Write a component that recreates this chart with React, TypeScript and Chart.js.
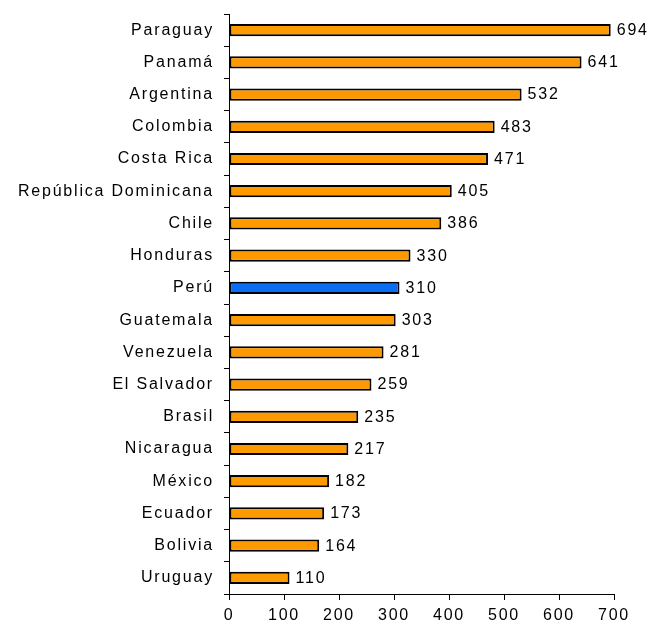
import React, { useEffect, useRef } from "react";
import { Chart, registerables } from "chart.js";

Chart.register(...registerables);

const categories = [
  "Paraguay",
  "Panamá",
  "Argentina",
  "Colombia",
  "Costa Rica",
  "República Dominicana",
  "Chile",
  "Honduras",
  "Perú",
  "Guatemala",
  "Venezuela",
  "El Salvador",
  "Brasil",
  "Nicaragua",
  "México",
  "Ecuador",
  "Bolivia",
  "Uruguay",
];
const values = [694, 641, 532, 483, 471, 405, 386, 330, 310, 303, 281, 259, 235, 217, 182, 173, 164, 110];
const highlighted = "Perú";
const xMin = 0;
const xMax = 700;
const xStep = 100;

const ORANGE = "#FF9900";
const BLUE = "#0A6EF5";
const FONT_FAMILY = "'Liberation Sans', Arial, sans-serif";
const FONT_SIZE = 16;
const LETTER_SPACING = "1.8px";

const spacingPlugin = {
  id: "letterSpacing",
  beforeUpdate(chart: any) {
    chart.ctx.letterSpacing = LETTER_SPACING;
  },
  beforeLayout(chart: any) {
    chart.ctx.letterSpacing = LETTER_SPACING;
  },
  beforeDraw(chart: any) {
    chart.ctx.letterSpacing = LETTER_SPACING;
  },
};

const valueLabelPlugin = {
  id: "valueLabels",
  afterDatasetsDraw(chart: any) {
    const ctx = chart.ctx;
    const meta = chart.getDatasetMeta(0);
    ctx.save();
    ctx.letterSpacing = LETTER_SPACING;
    ctx.font = `${FONT_SIZE}px ${FONT_FAMILY}`;
    ctx.fillStyle = "#000";
    ctx.textAlign = "left";
    ctx.textBaseline = "middle";
    meta.data.forEach((el: any, i: number) => {
      ctx.fillText(String(values[i]), el.x + 6, el.y + 0.5);
    });
    ctx.restore();
  },
};

export default function App() {
  const canvasRef = useRef<HTMLCanvasElement>(null);

  useEffect(() => {
    if (!canvasRef.current) return;
    const chart = new Chart(canvasRef.current, {
      type: "bar",
      data: {
        labels: categories,
        datasets: [
          {
            data: values,
            backgroundColor: categories.map((c) => (c === highlighted ? BLUE : ORANGE)),
            borderColor: "#000",
            borderWidth: 2,
            borderSkipped: false,
            barPercentage: 0.38,
            categoryPercentage: 1,
          },
        ],
      },
      options: {
        indexAxis: "y",
        responsive: false,
        animation: false,
        layout: { padding: { top: 14, right: 37, left: 0, bottom: 0 } },
        plugins: {
          legend: { display: false },
          tooltip: { enabled: false },
        },
        scales: {
          x: {
            type: "linear",
            min: xMin,
            max: xMax,
            ticks: {
              stepSize: xStep,
              color: "#000",
              font: { family: FONT_FAMILY, size: FONT_SIZE },
              padding: 6,
              maxRotation: 0,
            },
            grid: {
              display: true,
              drawOnChartArea: false,
              drawTicks: true,
              tickLength: 6,
              color: "#000",
            },
            border: { display: true, color: "#000", width: 1 },
            afterFit(scale: any) {
              scale.height = 27;
              scale.paddingLeft = 0;
            },
          },
          y: {
            type: "category",
            ticks: {
              color: "#000",
              font: { family: FONT_FAMILY, size: FONT_SIZE },
              padding: 10,
              autoSkip: false,
            },
            grid: {
              display: true,
              drawOnChartArea: false,
              drawTicks: true,
              tickLength: 5,
              color: "#000",
              offset: true,
            },
            border: { display: true, color: "#000", width: 1 },
            afterFit(scale: any) {
              scale.width = 229;
              scale.paddingTop = 0;
              scale.paddingBottom = 0;
            },
          },
        },
      },
      plugins: [spacingPlugin, valueLabelPlugin],
    } as any);
    return () => chart.destroy();
  }, []);

  return (
    <div style={{ position: "absolute", left: 0, top: 0, width: 651, height: 621, background: "#fff" }}>
      <canvas ref={canvasRef} width={651} height={621} style={{ display: "block" }} />
    </div>
  );
}
